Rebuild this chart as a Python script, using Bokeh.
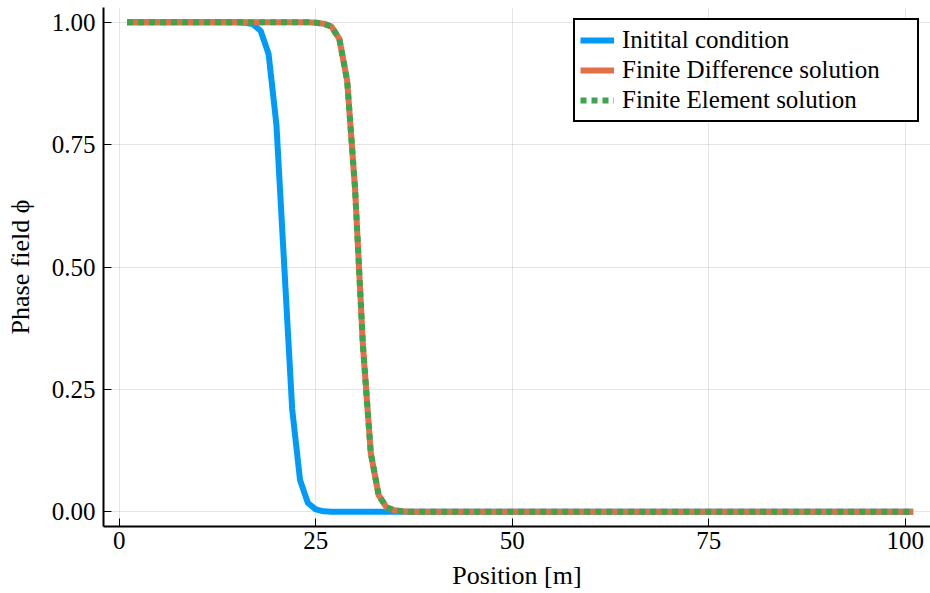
from bokeh.plotting import figure
from bokeh.models import Legend, LegendItem, Range1d, FixedTicker, PrintfTickFormatter, ColumnDataSource
from bokeh.embed import file_html
from bokeh.resources import INLINE

# Positions (m)
position = list(range(1, 102))

initial_condition = [
    1.0, 1.0, 1.0, 1.0, 1.0, 1.0, 1.0, 1.0, 1.0, 1.0,
    1.0, 1.0, 1.0, 1.0, 1.0, 0.999, 0.996, 0.982, 0.935, 0.79,
    0.50, 0.21, 0.065, 0.018, 0.005, 0.001, 0.0, 0.0, 0.0, 0.0,
    0.0, 0.0, 0.0, 0.0, 0.0, 0.0, 0.0, 0.0, 0.0, 0.0,
    0.0, 0.0, 0.0, 0.0, 0.0, 0.0, 0.0, 0.0, 0.0, 0.0,
    0.0, 0.0, 0.0, 0.0, 0.0, 0.0, 0.0, 0.0, 0.0, 0.0,
    0.0, 0.0, 0.0, 0.0, 0.0, 0.0, 0.0, 0.0, 0.0, 0.0,
    0.0, 0.0, 0.0, 0.0, 0.0, 0.0, 0.0, 0.0, 0.0, 0.0,
    0.0, 0.0, 0.0, 0.0, 0.0, 0.0, 0.0, 0.0, 0.0, 0.0,
    0.0, 0.0, 0.0, 0.0, 0.0, 0.0, 0.0, 0.0, 0.0, 0.0,
    0.0,
]

finite_difference = [
    1.0, 1.0, 1.0, 1.0, 1.0, 1.0, 1.0, 1.0, 1.0, 1.0,
    1.0, 1.0, 1.0, 1.0, 1.0, 1.0, 1.0, 1.0, 1.0, 1.0,
    1.0, 1.0, 1.0, 1.0, 0.999, 0.997, 0.991, 0.966, 0.88, 0.66,
    0.34, 0.12, 0.034, 0.009, 0.003, 0.001, 0.0, 0.0, 0.0, 0.0,
    0.0, 0.0, 0.0, 0.0, 0.0, 0.0, 0.0, 0.0, 0.0, 0.0,
    0.0, 0.0, 0.0, 0.0, 0.0, 0.0, 0.0, 0.0, 0.0, 0.0,
    0.0, 0.0, 0.0, 0.0, 0.0, 0.0, 0.0, 0.0, 0.0, 0.0,
    0.0, 0.0, 0.0, 0.0, 0.0, 0.0, 0.0, 0.0, 0.0, 0.0,
    0.0, 0.0, 0.0, 0.0, 0.0, 0.0, 0.0, 0.0, 0.0, 0.0,
    0.0, 0.0, 0.0, 0.0, 0.0, 0.0, 0.0, 0.0, 0.0, 0.0,
    0.0,
]

finite_element = [
    1.0, 1.0, 1.0, 1.0, 1.0, 1.0, 1.0, 1.0, 1.0, 1.0,
    1.0, 1.0, 1.0, 1.0, 1.0, 1.0, 1.0, 1.0, 1.0, 1.0,
    1.0, 1.0, 1.0, 1.0, 0.999, 0.997, 0.991, 0.966, 0.88, 0.66,
    0.34, 0.12, 0.034, 0.009, 0.003, 0.001, 0.0, 0.0, 0.0, 0.0,
    0.0, 0.0, 0.0, 0.0, 0.0, 0.0, 0.0, 0.0, 0.0, 0.0,
    0.0, 0.0, 0.0, 0.0, 0.0, 0.0, 0.0, 0.0, 0.0, 0.0,
    0.0, 0.0, 0.0, 0.0, 0.0, 0.0, 0.0, 0.0, 0.0, 0.0,
    0.0, 0.0, 0.0, 0.0, 0.0, 0.0, 0.0, 0.0, 0.0, 0.0,
    0.0, 0.0, 0.0, 0.0, 0.0, 0.0, 0.0, 0.0, 0.0, 0.0,
    0.0, 0.0, 0.0, 0.0, 0.0, 0.0, 0.0, 0.0, 0.0, 0.0,
    0.0,
]

x_ticks = [0, 25, 50, 75, 100]
y_ticks = [0.0, 0.25, 0.5, 0.75, 1.0]

series_labels = ["Initital condition", "Finite Difference solution", "Finite Element solution"]

FONT = "Liberation Serif"

source = ColumnDataSource(dict(x=position, ic=initial_condition,
                               fd=finite_difference, fe=finite_element))

p = figure(width=930, height=593, output_backend="svg", toolbar_location=None,
           x_range=Range1d(-2, 103.2), y_range=Range1d(-0.03, 1.03),
           min_border_left=103, min_border_right=0, min_border_top=7,
           min_border_bottom=67, background_fill_color="white",
           border_fill_color="white")
p.outline_line_color = None

r_ic = p.line("x", "ic", source=source, line_color="#009af9", line_width=6,
              line_join="round")
r_fd = p.line("x", "fd", source=source, line_color="#e26f46", line_width=6,
              line_join="round")
r_fe = p.line("x", "fe", source=source, line_color="#3da44d", line_width=6,
              line_dash="6 5", line_join="round")

p.xaxis.ticker = FixedTicker(ticks=x_ticks)
p.yaxis.ticker = FixedTicker(ticks=y_ticks)
p.yaxis.formatter = PrintfTickFormatter(format="%.2f")

for ax in (p.xaxis, p.yaxis):
    ax.axis_line_color = "black"
    ax.axis_line_width = 2
    ax.major_tick_in = 8
    ax.major_tick_out = 0
    ax.major_tick_line_color = "black"
    ax.major_tick_line_width = 1
    ax.minor_tick_line_color = None
    ax.major_label_text_font = FONT
    ax.major_label_text_font_size = "25px"
    ax.major_label_text_color = "black"
    ax.axis_label_text_font = FONT
    ax.axis_label_text_font_size = "26px"
    ax.axis_label_text_font_style = "normal"
    ax.axis_label_text_color = "black"

p.xaxis.axis_label = "Position [m]"
p.yaxis.axis_label = "Phase field ϕ"
p.xaxis.major_label_standoff = 5
p.xaxis.axis_label_standoff = 9
p.yaxis.major_label_standoff = 8
p.yaxis.axis_label_standoff = 14

p.xgrid.grid_line_color = "black"
p.xgrid.grid_line_alpha = 0.1
p.ygrid.grid_line_color = "black"
p.ygrid.grid_line_alpha = 0.1
p.xgrid.grid_line_width = 1
p.ygrid.grid_line_width = 1

legend = Legend(items=[LegendItem(label=series_labels[0], renderers=[r_ic]),
                       LegendItem(label=series_labels[1], renderers=[r_fd]),
                       LegendItem(label=series_labels[2], renderers=[r_fe])],
                location="top_right", margin=11, padding=5, spacing=0,
                label_height=30, glyph_height=30, glyph_width=34,
                label_standoff=8, label_width=290,
                border_line_color="black", border_line_width=2,
                border_line_alpha=1.0,
                background_fill_color="white", background_fill_alpha=1.0,
                label_text_font=FONT, label_text_font_size="25px",
                label_text_color="black", label_text_align="center")
p.add_layout(legend)

open("out.html", "w").write(file_html(p, INLINE))
